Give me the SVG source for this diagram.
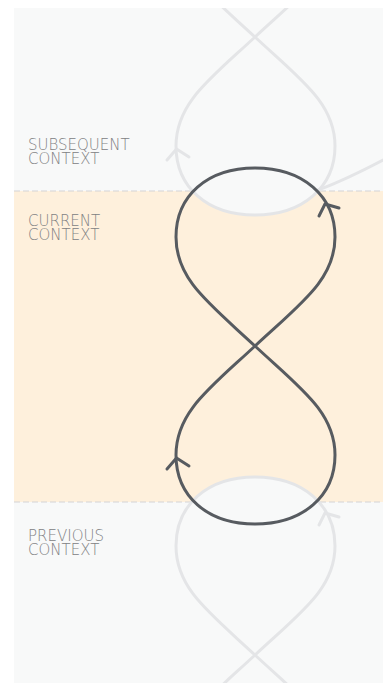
<svg xmlns="http://www.w3.org/2000/svg" xmlns:xlink="http://www.w3.org/1999/xlink" width="383" height="683" viewBox="0 0 383 683">
  <style>
    .panel { fill: #f8f9f9; }
    .band { fill: #fef0dc; }
    .divider { stroke: #d3d4d6; stroke-width: 1.2; stroke-dasharray: 6 3; fill: none; }
    .label { font-family: "DejaVu Sans", "Liberation Sans", sans-serif; font-size: 15px; font-weight: 200; fill: #808183; }
    .ghost { fill: #f8f9f9; stroke: #e4e5e7; stroke-width: 3; }
    .ghost-arrow { fill: none; stroke: #e4e5e7; stroke-width: 3; stroke-linecap: round; stroke-linejoin: round; }
    .main { fill: none; stroke: #575b60; stroke-width: 3; }
    .main-arrow { fill: none; stroke: #575b60; stroke-width: 3; stroke-linecap: round; stroke-linejoin: round; }
  </style>
  <defs>
    <path id="eight" d="M255,346 C300,304 335,280 335,237 C335,196 303,168 255,168 C207,168 176,196 176,237 C176,280 210,304 255,346 C300,388 335,412 335,455 C335,496 303,524 255,524 C207,524 176,496 176,455 C176,412 210,388 255,346 Z"/>
    <path id="arrowUpRight" d="M319,216 L325,204 L339,208"/>
    <path id="arrowUpLeft" d="M167,469 L176.5,458 L189,466"/>
    <clipPath id="panelClip">
      <rect x="14" y="8" width="369" height="675"/>
    </clipPath>
  </defs>

  <g id="background">
    <rect class="panel" x="14" y="8" width="369" height="675"/>
    <rect class="band" x="14" y="191" width="369" height="311"/>
    <line class="divider" x1="14" y1="191" x2="383" y2="191"/>
    <line class="divider" x1="14" y1="502" x2="383" y2="502"/>
  </g>

  <g id="labels">
    <text id="label-subsequent" class="label">
      <tspan x="28" y="150">SUBSEQUENT</tspan>
      <tspan x="28" y="164">CONTEXT</tspan>
    </text>
    <text id="label-current" class="label">
      <tspan x="28" y="226">CURRENT</tspan>
      <tspan x="28" y="240">CONTEXT</tspan>
    </text>
    <text id="label-previous" class="label">
      <tspan x="28" y="541">PREVIOUS</tspan>
      <tspan x="28" y="555">CONTEXT</tspan>
    </text>
  </g>

  <g id="ghost-subsequent" clip-path="url(#panelClip)">
    <use xlink:href="#eight" href="#eight" class="ghost" transform="translate(0,-309)"/>
    <path class="ghost-arrow" d="M318,190 Q345,180 383,160"/>
    <use xlink:href="#arrowUpLeft" href="#arrowUpLeft" class="ghost-arrow" transform="translate(0,-309)"/>
  </g>

  <g id="ghost-previous" clip-path="url(#panelClip)">
    <use xlink:href="#eight" href="#eight" class="ghost" transform="translate(0,309)"/>
    <use xlink:href="#arrowUpRight" href="#arrowUpRight" class="ghost-arrow" transform="translate(0,309)"/>
  </g>

  <g id="current-loop">
    <use xlink:href="#eight" href="#eight" class="main"/>
    <use xlink:href="#arrowUpRight" href="#arrowUpRight" class="main-arrow"/>
    <use xlink:href="#arrowUpLeft" href="#arrowUpLeft" class="main-arrow"/>
  </g>
</svg>
